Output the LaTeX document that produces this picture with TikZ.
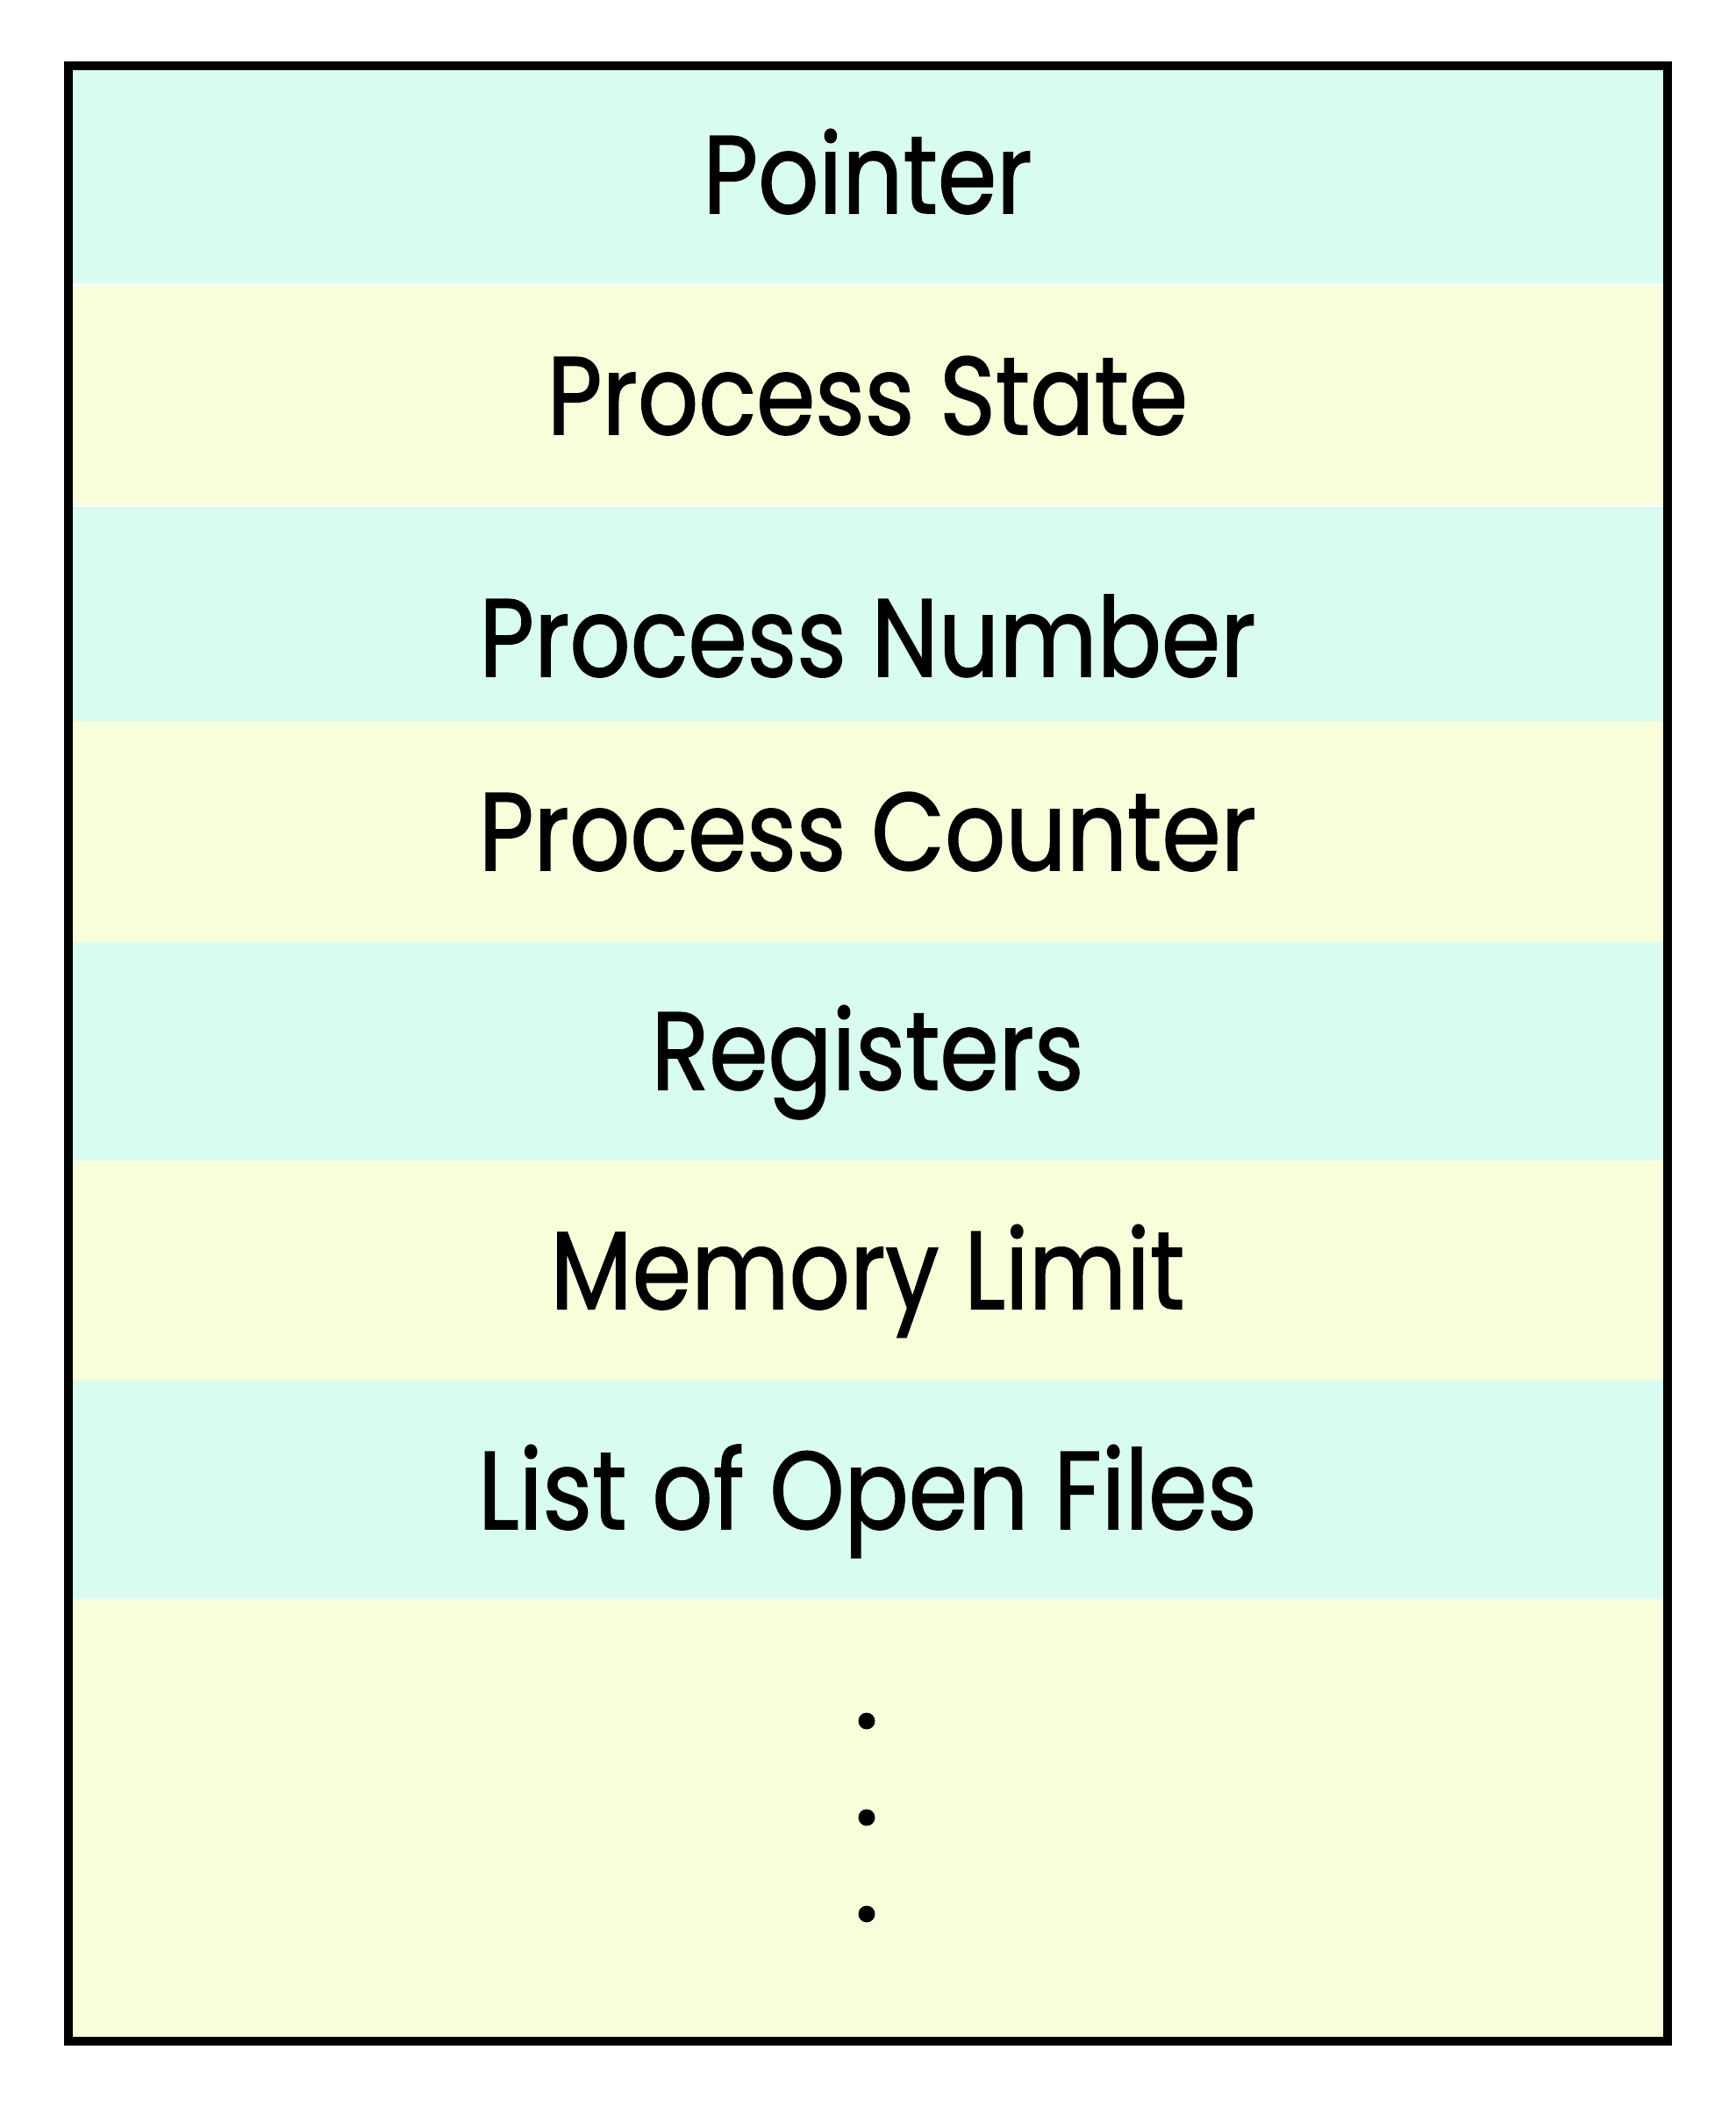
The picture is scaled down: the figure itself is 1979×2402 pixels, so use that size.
\documentclass[tikz,border=0pt]{standalone}
\usepackage{fontspec}
\setmainfont{Poppins}[FakeStretch=0.86, FakeBold=1.2]
\definecolor{pcbmint}{RGB}{216,253,240}
\definecolor{pcbcream}{RGB}{248,253,218}
\tikzset{
  field/.style={anchor=base, inner sep=0pt, font=\fontsize{31.5}{36}\selectfont},
  dotmark/.style={circle, fill=black, inner sep=0pt, minimum size=4.75pt},
}
\newcommand{\band}[3]{% colour, top, bottom
  \fill[#1] (83,#2) rectangle (1896,#3);
}

\begin{document}
\begin{tikzpicture}[x=0.25pt,y=-0.25pt]
  \useasboundingbox (0,0) rectangle (1979,2402);

  % stripes of the block
  \foreach \col/\ya/\yb in {pcbmint/80/323, pcbcream/326/575, pcbmint/578/822,
      pcbcream/822/1074, pcbmint/1074/1323, pcbcream/1323/1573,
      pcbmint/1573/1823, pcbcream/1823/2322}{
    \band{\col}{\ya}{\yb}
  }

  \node[field] (pointer)   at (989,243)  {Pointer};
  \node[field] (state)     at (989,495)  {Process State};
  \node[field] (number)    at (989,771)  {Process Number};
  \node[field] (counter)   at (989,992)  {Process Counter};
  \node[field] (registers) at (989,1242) {Registers};
  \node[field] (memory)    at (989,1492) {Memory Limit};
  \node[field] (files)     at (989,1743) {List of Open Files};

  \foreach \i/\y in {1/1962,2/2072,3/2182}{
    \node[dotmark] (dot\i) at (988,\y) {};
  }

  \draw[line width=2.5pt] (78,75) rectangle (1901,2327);% outer frame
\end{tikzpicture}
\end{document}
